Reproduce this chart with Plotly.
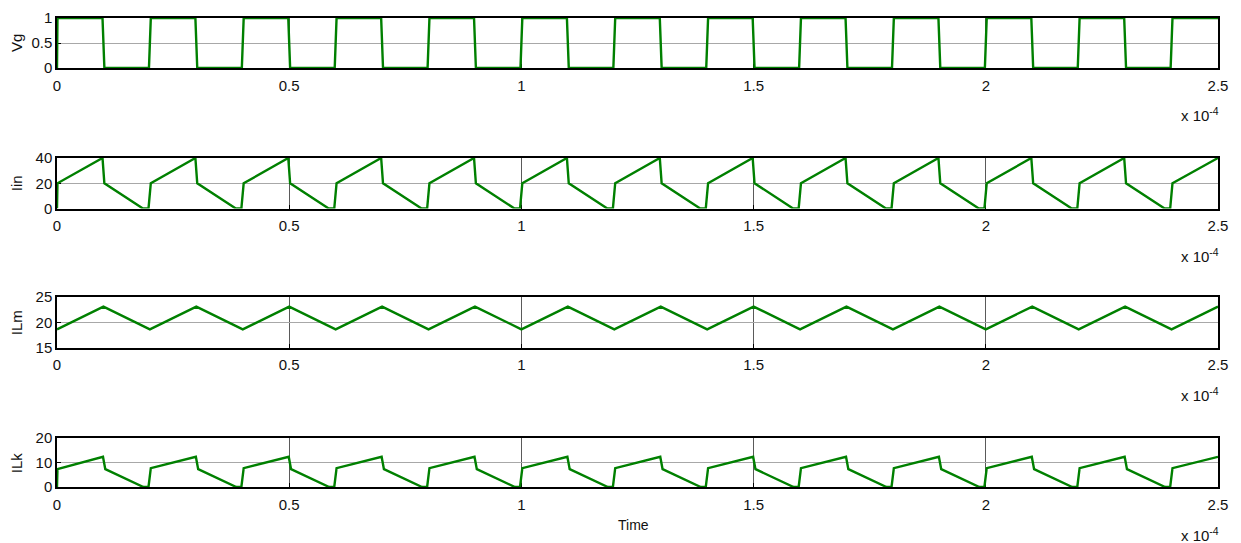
import plotly.graph_objects as go

# ---- data (time in units of 1e-4 s) ----
vg_t = [0, 0.001, 0.098, 0.102, 0.198, 0.202, 0.298, 0.302, 0.398, 0.402, 0.498, 0.502,
        0.598, 0.602, 0.698, 0.702, 0.798, 0.802, 0.898, 0.902, 0.998, 1.002, 1.098, 1.102,
        1.198, 1.202, 1.298, 1.302, 1.398, 1.402, 1.498, 1.502, 1.598, 1.602, 1.698, 1.702,
        1.798, 1.802, 1.898, 1.902, 1.998, 2.002, 2.098, 2.102, 2.198, 2.202, 2.298, 2.302,
        2.398, 2.402, 2.5]
vg_v = [0, 1, 1, 0, 0, 1, 1, 0, 0, 1, 1, 0,
        0, 1, 1, 0, 0, 1, 1, 0, 0, 1, 1, 0,
        0, 1, 1, 0, 0, 1, 1, 0, 0, 1, 1, 0,
        0, 1, 1, 0, 0, 1, 1, 0, 0, 1, 1, 0,
        0, 1, 1]

iin_t = [0, 0.001, 0.098, 0.102, 0.185, 0.197, 0.202, 0.298, 0.302, 0.385, 0.397,
         0.402, 0.498, 0.502, 0.585, 0.597, 0.602, 0.698, 0.702, 0.785, 0.797,
         0.802, 0.898, 0.902, 0.985, 0.997, 1.002, 1.098, 1.102, 1.185, 1.197,
         1.202, 1.298, 1.302, 1.385, 1.397, 1.402, 1.498, 1.502, 1.585, 1.597,
         1.602, 1.698, 1.702, 1.785, 1.797, 1.802, 1.898, 1.902, 1.985, 1.997,
         2.002, 2.098, 2.102, 2.185, 2.197, 2.202, 2.298, 2.302, 2.385, 2.397,
         2.402, 2.5]
iin_v = [0, 20, 40, 20, 0, 0, 20, 40, 20, 0, 0,
         20, 40, 20, 0, 0, 20, 40, 20, 0, 0,
         20, 40, 20, 0, 0, 20, 40, 20, 0, 0,
         20, 40, 20, 0, 0, 20, 40, 20, 0, 0,
         20, 40, 20, 0, 0, 20, 40, 20, 0, 0,
         20, 40, 20, 0, 0, 20, 40, 20, 0, 0,
         20, 40]

ilm_t = [0, 0.1, 0.2, 0.3, 0.4, 0.5, 0.6, 0.7, 0.8, 0.9, 1.0, 1.1, 1.2,
         1.3, 1.4, 1.5, 1.6, 1.7, 1.8, 1.9, 2.0, 2.1, 2.2, 2.3, 2.4, 2.5]
ilm_v = [18.6, 23.1, 18.6, 23.1, 18.6, 23.1, 18.6, 23.1, 18.6, 23.1, 18.6, 23.1, 18.6,
         23.1, 18.6, 23.1, 18.6, 23.1, 18.6, 23.1, 18.6, 23.1, 18.6, 23.1, 18.6, 23.1]

ilk_t = [0, 0.001, 0.099, 0.104, 0.186, 0.197, 0.202, 0.299, 0.304, 0.386, 0.397,
         0.402, 0.499, 0.504, 0.586, 0.597, 0.602, 0.699, 0.704, 0.786, 0.797,
         0.802, 0.899, 0.904, 0.986, 0.997, 1.002, 1.099, 1.104, 1.186, 1.197,
         1.202, 1.299, 1.304, 1.386, 1.397, 1.402, 1.499, 1.504, 1.586, 1.597,
         1.602, 1.699, 1.704, 1.786, 1.797, 1.802, 1.899, 1.904, 1.986, 1.997,
         2.002, 2.099, 2.104, 2.186, 2.197, 2.202, 2.299, 2.304, 2.386, 2.397,
         2.402, 2.5]
ilk_v = [0, 7.2, 12.2, 7.2, 0, 0, 7.6, 12.2, 7.2, 0, 0,
         7.6, 12.2, 7.2, 0, 0, 7.6, 12.2, 7.2, 0, 0,
         7.6, 12.2, 7.2, 0, 0, 7.6, 12.2, 7.2, 0, 0,
         7.6, 12.2, 7.2, 0, 0, 7.6, 12.2, 7.2, 0, 0,
         7.6, 12.2, 7.2, 0, 0, 7.6, 12.2, 7.2, 0, 0,
         7.6, 12.2, 7.2, 0, 0, 7.6, 12.2, 7.2, 0, 0,
         7.6, 12.2]

x_ticks = [0, 0.5, 1, 1.5, 2, 2.5]
x_ticktext = ["0", "0.5", "1", "1.5", "2", "2.5"]
labels = ["Vg", "Iin", "ILm", "ILk"]
y_ranges = [[0, 1], [0, 40], [15, 25], [0, 20]]
y_ticks = [[0, 0.5, 1], [0, 20, 40], [15, 20, 25], [0, 10, 20]]
y_ticktext = [["0", "0.5", "1"], ["0", "20", "40"], ["15", "20", "25"], ["0", "10", "20"]]
series = [(vg_t, vg_v), (iin_t, iin_v), (ilm_t, ilm_v), (ilk_t, ilk_v)]

# ---- layout geometry (screen pixels; page body has an 8px margin) ----
OFF = 8
W, H = 1241 - 2 * OFF, 543 - OFF
PL, PR = 57, 1218            # plot left / right on screen
rows_px = [(18, 68), (158, 208.5), (297, 347.5), (437.5, 487)]
FONT = "Liberation Sans, Arial, sans-serif"
FS = 15

def py(px):
    return 1 - (px - OFF) / H

def px_x(px):
    return (px - PL) / (PR - PL)

fig = go.Figure()
layout = dict(
    width=W, height=H,
    margin=dict(l=PL - OFF, r=W - (PR - OFF), t=0, b=0, pad=0),
    paper_bgcolor="white", plot_bgcolor="white",
    showlegend=False,
    font=dict(family=FONT, size=FS, color="#111"),
    annotations=[],
)

for i, ((t, v), lab) in enumerate(zip(series, labels)):
    n = "" if i == 0 else str(i + 1)
    fig.add_trace(go.Scatter(x=t, y=v, mode="lines",
                             line=dict(color="#008000", width=2.4),
                             xaxis="x" + n, yaxis="y" + n, hoverinfo="skip"))
    top, bot = rows_px[i]
    layout["xaxis" + n] = dict(
        domain=[0, 1], anchor="y" + n, range=[0, 2.5], automargin=False,
        tickvals=x_ticks, ticktext=x_ticktext,
        showline=True, mirror=True, linecolor="black", linewidth=1.5,
        ticks="inside", ticklen=4, tickcolor="black",
        showgrid=True, gridcolor="#5a5a5a", gridwidth=1,
        zeroline=False, layer="below traces",
        tickfont=dict(size=FS, family=FONT, color="#111"),
        ticklabelstandoff=3,
    )
    layout["yaxis" + n] = dict(
        domain=[py(bot), py(top)], anchor="x" + n, range=y_ranges[i], automargin=False,
        tickvals=y_ticks[i], ticktext=y_ticktext[i],
        showline=True, mirror=True, linecolor="black", linewidth=1.5,
        ticks="inside", ticklen=4, tickcolor="black",
        showgrid=True, gridcolor="#a8a8a8", gridwidth=1,
        zeroline=False, layer="below traces",
        tickfont=dict(size=FS, family=FONT, color="#111"),
    )
    layout["annotations"].append(dict(
        text=lab, xref="paper", yref="paper", x=px_x(16), y=py((top + bot) / 2),
        textangle=-90, showarrow=False, xanchor="center", yanchor="middle",
        font=dict(size=FS, family=FONT, color="#111")))
    layout["annotations"].append(dict(
        text="x 10<sup>-4</sup>", xref="paper", yref="paper",
        x=px_x(1179), y=py(bot + 47), xanchor="left", yanchor="middle",
        showarrow=False, font=dict(size=FS, family=FONT, color="#111")))

layout["annotations"].append(dict(
    text="Time", xref="paper", yref="paper", x=px_x(633), y=py(525),
    xanchor="center", yanchor="middle", showarrow=False,
    font=dict(size=14, family=FONT, color="#111")))

fig.update_layout(**layout)
fig.write_html("out.html")
